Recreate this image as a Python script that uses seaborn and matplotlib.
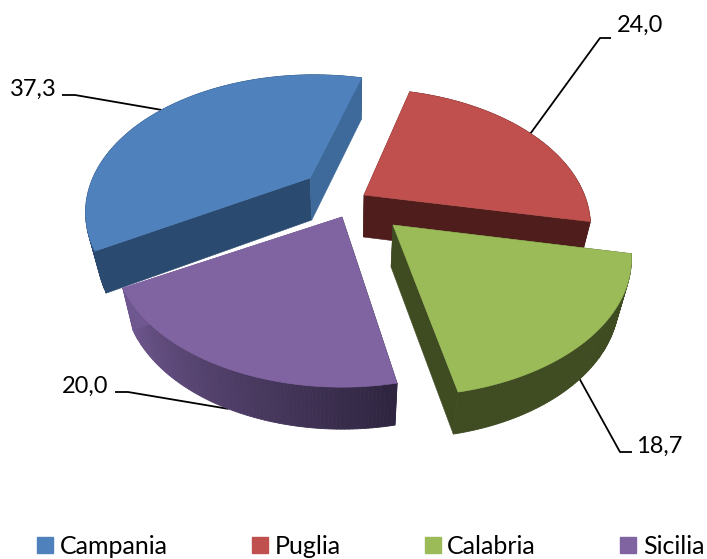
import numpy as np
import matplotlib
matplotlib.use("Agg")
import matplotlib.pyplot as plt
from matplotlib.patches import Polygon, Patch
import seaborn as sns

# ---- data ----
regions = ["Campania", "Puglia", "Calabria", "Sicilia"]
values = [37.3, 24.0, 18.7, 20.0]
value_labels = ["37,3", "24,0", "18,7", "20,0"]

# ---- style ----
top_colors = ["#4F81BD", "#C0504D", "#9BBB59", "#8064A2"]
arc_from = ["#2B4A70", "#4F1E1C", "#3F4C22", "#6F578F"]
arc_to = ["#2B4A70", "#4F1E1C", "#3F4C22", "#2F2540"]
start_face = ["#2B4A70", "#4F1E1C", "#3F4C22", "#2F2540"]
end_face = ["#3D6A9B", "#4F1E1C", "#3F4C22", "#6F578F"]
apexes = [(310, 178), (364, 195), (393, 225), (342, 217)]
rim_shift = [(4, 2), (-2, -1), (10, 1), (0, 0)]
elbows = [[(75, 95), (62, 95)], [(600, 38), (611, 38)],
          [(620, 452), (632, 452)], [(128, 392), (115, 392)]]
label_pos = [(57, 89), (617, 25), (636, 446), (108, 386)]
label_ha = ["right", "left", "left", "right"]
use_bottom = [False, False, True, True]
draw_order = [0, 1, 3, 2]
START = 241.0
RX, RY, K, DEPTH, VX, SHRINK = 222, 130, 0.236, 42, 350, 0.955

sns.set_theme(style="white")
plt.rcParams["font.family"] = ["Lato", "DejaVu Sans"]

fig, ax = plt.subplots(figsize=(7.07, 5.59), dpi=100)
ax.set_position([0, 0, 1, 1])
ax.set_xlim(0, 707)
ax.set_ylim(559, 0)
ax.axis("off")

fracs = np.array(values) / np.sum(values)
edges = START + 360 * np.concatenate([[0], np.cumsum(fracs)])


def top_pts(apex, shift, angles):
    a = np.radians(angles)
    X, Y = np.sin(a), np.cos(a)
    s = 1 / (1 + K * Y)
    return np.column_stack([apex[0] + shift[0] + RX * X * s,
                            apex[1] + shift[1] - RY * Y * s])


def lower(pts):
    pts = np.atleast_2d(pts)
    return np.column_stack([VX + (pts[:, 0] - VX) * SHRINK, pts[:, 1] + DEPTH])


for i in draw_order:
    apex = np.array(apexes[i], float)
    angles = np.linspace(edges[i], edges[i + 1], 90)
    arc = top_pts(apex, rim_shift[i], angles)
    low = lower(arc)
    shades = sns.blend_palette([arc_from[i], arc_to[i]], len(angles) - 1)
    # arc side, blended along the rim (Sicilia runs from left to right)
    for j in range(len(angles) - 1):
        c = shades[len(angles) - 2 - j]
        ax.add_patch(Polygon([arc[j], arc[j + 1], low[j + 1], low[j]],
                             fc=c, ec=c, lw=0.6, zorder=2 + draw_order.index(i)))
    # radial faces
    apex_low = lower(apex)[0]
    z = 2 + draw_order.index(i) + 0.1
    ax.add_patch(Polygon([apex, arc[0], low[0], apex_low], fc=start_face[i],
                         ec=start_face[i], lw=0.4, zorder=z))
    ax.add_patch(Polygon([apex, arc[-1], low[-1], apex_low], fc=end_face[i],
                         ec=end_face[i], lw=0.4, zorder=z))
    # top surface
    ax.add_patch(Polygon(np.vstack([apex, arc]), fc=top_colors[i], ec=top_colors[i],
                         lw=0.4, zorder=z + 0.1))

# leader lines and value labels
for i in range(len(values)):
    mid = (edges[i] + edges[i + 1]) / 2
    p = top_pts(np.array(apexes[i], float), rim_shift[i], [mid])
    if use_bottom[i]:
        p = lower(p)
    xs = [p[0, 0]] + [e[0] for e in elbows[i]]
    ys = [p[0, 1]] + [e[1] for e in elbows[i]]
    ax.plot(xs, ys, color="black", lw=1.3, zorder=1, solid_capstyle="butt")
    ax.text(label_pos[i][0], label_pos[i][1], value_labels[i], ha=label_ha[i], va="center",
            fontsize=17, color="black", zorder=11)

handles = [Patch(fc=c, ec=c, label=r) for c, r in zip(top_colors, regions)]
ax.legend(handles=handles, ncol=4, loc="lower left", bbox_to_anchor=(37 / 707, 1 / 559),
          bbox_transform=ax.transAxes, frameon=False, fontsize=18, borderpad=0,
          handlelength=0.64, handleheight=0.64, handletextpad=0.27, columnspacing=3.36,
          borderaxespad=0, labelcolor="black")

fig.savefig("out.png", dpi=100)
